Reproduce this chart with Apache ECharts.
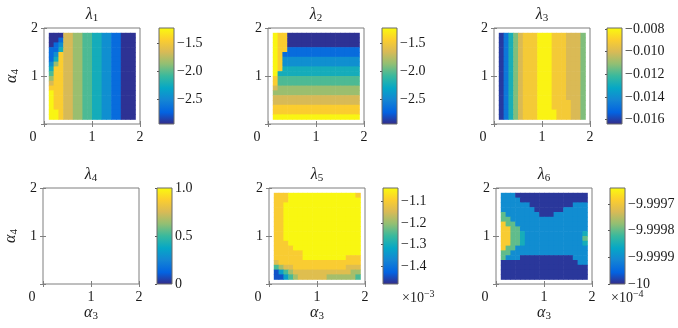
<!DOCTYPE html>
<html>
<head>
<meta charset="utf-8">
<script src="https://cdn.jsdelivr.net/npm/echarts@6/dist/echarts.min.js"></script>
<style>
html, body { margin: 0; padding: 0; background: #fff; }
#chart { width: 678px; height: 328px; }
</style>
</head>
<body>
<div id="chart"></div>
<script>
// centres of the 18 x 18 sample cells (rows listed top to bottom)
var cellX = [0.15, 0.25, 0.35, 0.45, 0.55, 0.65, 0.75, 0.85, 0.95, 1.05, 1.15, 1.25, 1.35, 1.45, 1.55, 1.65, 1.75, 1.85];
var cellY = [1.85, 1.75, 1.65, 1.55, 1.45, 1.35, 1.25, 1.15, 1.05, 0.95, 0.85, 0.75, 0.65, 0.55, 0.45, 0.35, 0.25, 0.15];

// contour band values, and maps of which band each cell falls in (one char per cell)
var lam1Levels = [-2.90, -2.66, -2.44, -2.23, -2.03, -1.84, -1.66, -1.45, -1.26];
var lam1Map = [
  '000665544332211000',
  '001665544332211000',
  '012665544332211000',
  '113665544332211000',
  '127665544332211000',
  '137665544332211000',
  '257665544332211000',
  '377665544332211000',
  '477665544332211000',
  '577665544332211000',
  '677665544332211000',
  '777665544332211000',
  '877665544332211000',
  '877665544332211000',
  '877665544332211000',
  '877665544332211000',
  '887665544332211000',
  '887665544332211000'
];

var lam2Levels = [-2.90, -2.66, -2.44, -2.23, -2.03, -1.84, -1.66, -1.45, -1.26];
var lam2Map = [
  '877000000000000000',
  '877000000000000000',
  '877000000000000000',
  '877111111111111111',
  '871111111111111111',
  '872222222222222222',
  '872222222222222222',
  '873333333333333333',
  '833333333333333333',
  '744444444444444444',
  '744444444444444444',
  '655555555555555555',
  '555555555555555555',
  '666666666666666666',
  '666666666666666666',
  '777777777777777777',
  '777777777777777777',
  '888888888888888888'
];

var lam3Levels = [-0.0161, -0.0147, -0.0128, -0.0113, -0.0100, -0.0092, -0.0081];
var lam3Map = [
  '012345556665554443',
  '012345556665554443',
  '012345556665554443',
  '012345556665554443',
  '012345556665554443',
  '012345556665554443',
  '012345556665554443',
  '012345556665554443',
  '012345556665554443',
  '012345556665554443',
  '012345556665554443',
  '012345556665554443',
  '012345556665554443',
  '012345556665554443',
  '012345556665555443',
  '012345556665555443',
  '012345556666555443',
  '012345556666555443'
];

var lam5Levels = [-1.44, -1.33, -1.25, -1.19, -1.14, -1.10, -1.045];
var lam5Map = [
  '555666666666666665',
  '555666666666666666',
  '556666666666666666',
  '556666666666666666',
  '556666666666666666',
  '556666666666666666',
  '556666666666666666',
  '556666666666666666',
  '556666666666666666',
  '556666666666666666',
  '555666666666666666',
  '555566666666666666',
  '555555666666666666',
  '555555666666666555',
  '455555555555555555',
  '234455555555555444',
  '012344444444444433',
  '001234444443333332'
];

var lam6Levels = [-9.99999, -9.99990, -9.99985, -9.99980, -9.99969];
var lam6Map = [
  '111000000000000000',
  '111100000000000000',
  '111111000000000111',
  '111111100000011111',
  '311111110001111111',
  '331111111111111111',
  '433111111111111111',
  '443311111111111111',
  '443321111111111112',
  '443321111111111113',
  '443321111111111112',
  '433111111111111111',
  '331111111111111111',
  '311100000000000111',
  '000000000000000011',
  '000000000000000000',
  '000000000000000000',
  '000000000000000000'
];

// colour bar ranges and their tick labels
var lam1Range = [-2.93, -1.23];
var lam2Range = [-2.93, -1.23];
var lam3Range = [-0.0164, -0.0079];
var lam4Range = [0, 1];
var lam5Range = [-1.48, -1.04];
var lam6Range = [-10, -9.99964];

var lam1Ticks = [-2.5, -2.0, -1.5];
var lam1TickLabels = ['\u22122.5', '\u22122.0', '\u22121.5'];
var lam2Ticks = [-2.5, -2.0, -1.5];
var lam2TickLabels = ['\u22122.5', '\u22122.0', '\u22121.5'];
var lam3Ticks = [-0.016, -0.014, -0.012, -0.010, -0.008];
var lam3TickLabels = ['\u22120.016', '\u22120.014', '\u22120.012', '\u22120.010', '\u22120.008'];
var lam4Ticks = [0, 0.5, 1];
var lam4TickLabels = ['0', '0.5', '1.0'];
var lam5Ticks = [-1.4, -1.3, -1.2, -1.1];
var lam5TickLabels = ['\u22121.4', '\u22121.3', '\u22121.2', '\u22121.1'];
var lam6Ticks = [-10, -9.9999, -9.9998, -9.9997];
var lam6TickLabels = ['\u221210', '\u22129.9999', '\u22129.9998', '\u22129.9997'];

var PARULA = ['#352a87', '#0363e1', '#1485d4', '#06a7c6', '#38b99e', '#92bf73', '#d9ba56', '#fcce2e', '#f9fb0e'];
var FONT = 'Liberation Serif';
var TXT = '#1a1a1a';
var FRAME = '#7f7f7f';

var panels = [
  { sub: '1', levels: lam1Levels, map: lam1Map, range: lam1Range, ticks: lam1Ticks, labels: lam1TickLabels },
  { sub: '2', levels: lam2Levels, map: lam2Map, range: lam2Range, ticks: lam2Ticks, labels: lam2TickLabels },
  { sub: '3', levels: lam3Levels, map: lam3Map, range: lam3Range, ticks: lam3Ticks, labels: lam3TickLabels },
  { sub: '4', levels: null, map: null, range: lam4Range, ticks: lam4Ticks, labels: lam4TickLabels },
  { sub: '5', levels: lam5Levels, map: lam5Map, range: lam5Range, ticks: lam5Ticks, labels: lam5TickLabels, scale: '\u22123' },
  { sub: '6', levels: lam6Levels, map: lam6Map, range: lam6Range, ticks: lam6Ticks, labels: lam6TickLabels, scale: '\u22124' }
];

var plotLeft = [44, 268, 494, 43, 269, 496];
var plotTop = [28, 28, 28, 188, 188, 188];
var barLeft = [159, 382, 607, 157, 383, 610];

var chart = echarts.init(document.getElementById('chart'));

var subRich = {
  a: { fontFamily: FONT, fontSize: 16, fontStyle: 'italic', color: TXT },
  s: { fontFamily: FONT, fontSize: 11, color: TXT, padding: [7, 0, 0, 0] }
};

function renderCell(params, api) {
  var x = api.value(0), y = api.value(1);
  var p0 = api.coord([x - 0.05, y + 0.05]);
  var p1 = api.coord([x + 0.05, y - 0.05]);
  return {
    type: 'rect',
    shape: { x: p0[0], y: p0[1], width: p1[0] - p0[0] + 0.6, height: p1[1] - p0[1] + 0.6 },
    style: { fill: api.visual('color') }
  };
}

var barFill = new echarts.graphic.LinearGradient(0, 1, 0, 0, PARULA.map(function (c, i) {
  return { offset: i / (PARULA.length - 1), color: c };
}));

function renderBar(params, api) {
  var p0 = api.coord([0, api.value(2)]);
  var p1 = api.coord([1, api.value(1)]);
  return {
    type: 'rect',
    shape: { x: p0[0], y: p0[1], width: p1[0] - p0[0], height: p1[1] - p0[1] },
    style: { fill: barFill, stroke: '#6a6a6a', lineWidth: 1 }
  };
}

function labelLookup(vals, labs) {
  return function (v) {
    for (var i = 0; i < vals.length; i++) {
      if (Math.abs(v - vals[i]) < 1e-9) return labs[i];
    }
    return '';
  };
}

function frameAxis(gridIndex, pos, withLabels) {
  return {
    gridIndex: gridIndex, type: 'value', position: pos,
    min: 0, max: 2, interval: 1,
    axisLine: { show: false },
    splitLine: { show: false },
    axisTick: { show: true, inside: true, length: 3, lineStyle: { color: FRAME } },
    axisLabel: { show: withLabels, margin: 6, color: TXT, fontFamily: FONT, fontSize: 14 }
  };
}

var grids = [], xAxes = [], yAxes = [], series = [], visualMaps = [], graphics = [];

panels.forEach(function (p, k) {
  var gi = grids.length;
  grids.push({ left: plotLeft[k], top: plotTop[k], width: 96, height: 96, show: true,
    borderColor: FRAME, borderWidth: 1, backgroundColor: '#fff', containLabel: false, outerBoundsMode: 'none' });
  grids.push({ left: barLeft[k], top: plotTop[k], width: 15, height: 96, show: false,
    containLabel: false, outerBoundsMode: 'none' });

  var xb = xAxes.length;
  var xBottom = frameAxis(gi, 'bottom', true);
  xBottom.axisLabel.formatter = function (v) { return v === 0 ? '{z|0}' : String(v); };
  xBottom.axisLabel.rich = { z: { fontFamily: FONT, fontSize: 14, color: TXT, padding: [0, 22, 0, 0] } };
  if (k >= 3) {
    xBottom.name = '{a|\u03b1}{s|3}';
    xBottom.nameLocation = 'middle';
    xBottom.nameGap = 18;
    xBottom.nameTextStyle = { rich: subRich };
  }
  xAxes.push(xBottom);
  xAxes.push(frameAxis(gi, 'top', false));
  xAxes.push({ gridIndex: gi + 1, type: 'value', min: 0, max: 1, show: false });

  var yb = yAxes.length;
  var yLeft = frameAxis(gi, 'left', true);
  yLeft.axisLabel.formatter = function (v) { return v === 0 ? '' : String(v); };
  if (k === 0 || k === 3) {
    yLeft.name = '{a|\u03b1}{s|4}';
    yLeft.nameLocation = 'middle';
    yLeft.nameRotate = 90;
    yLeft.nameGap = 23;
    yLeft.nameTextStyle = { rich: subRich };
  }
  yAxes.push(yLeft);
  yAxes.push(frameAxis(gi, 'right', false));
  yAxes.push({
    gridIndex: gi + 1, type: 'value', position: 'right',
    min: p.range[0], max: p.range[1],
    axisLine: { show: false },
    splitLine: { show: false },
    axisTick: { show: true, inside: true, length: 2, customValues: p.ticks, lineStyle: { color: '#555' } },
    axisLabel: { show: true, margin: 3, color: TXT, fontFamily: FONT, fontSize: 14,
      customValues: p.ticks, formatter: labelLookup(p.ticks, p.labels) }
  });

  if (p.map) {
    var data = [];
    p.map.forEach(function (row, r) {
      for (var c = 0; c < row.length; c++) {
        data.push([cellX[c], cellY[r], p.levels[+row.charAt(c)]]);
      }
    });
    series.push({ type: 'custom', xAxisIndex: xb, yAxisIndex: yb, data: data,
      encode: { x: 0, y: 1 }, renderItem: renderCell, silent: true, animation: false });
    visualMaps.push({ type: 'continuous', show: false, seriesIndex: series.length - 1, dimension: 2,
      min: p.range[0], max: p.range[1], inRange: { color: PARULA } });
  }
  series.push({ type: 'custom', xAxisIndex: xb + 2, yAxisIndex: yb + 2, data: [[0, p.range[0], p.range[1]]],
    encode: { x: 0, y: [1, 2] }, renderItem: renderBar, silent: true, animation: false, z: 3 });

  graphics.push({
    type: 'text', x: plotLeft[k] + 48, y: plotTop[k] - 13,
    style: { text: '{a|\u03bb}{s|' + p.sub + '}', rich: {
        a: { fontFamily: FONT, fontSize: 16, fontStyle: 'italic', fill: TXT },
        s: { fontFamily: FONT, fontSize: 11, fill: TXT, padding: [7, 0, 0, 0] } },
      align: 'center', verticalAlign: 'middle', textAlign: 'center', textVerticalAlign: 'middle' }
  });
  if (p.scale) {
    graphics.push({
      type: 'text', x: barLeft[k] + (k === 4 ? 19 : 1), y: plotTop[k] + 110,
      style: { text: '{a|\u00d710}{p|' + p.scale + '}', rich: {
          a: { fontFamily: FONT, fontSize: 14, fill: TXT },
          p: { fontFamily: FONT, fontSize: 10, fill: TXT, padding: [0, 0, 7, 0] } },
        align: 'left', verticalAlign: 'middle', textAlign: 'left', textVerticalAlign: 'middle' }
    });
  }
});

chart.setOption({
  animation: false,
  backgroundColor: '#fff',
  grid: grids,
  xAxis: xAxes,
  yAxis: yAxes,
  visualMap: visualMaps,
  series: series,
  graphic: graphics
});
</script>
</body>
</html>
